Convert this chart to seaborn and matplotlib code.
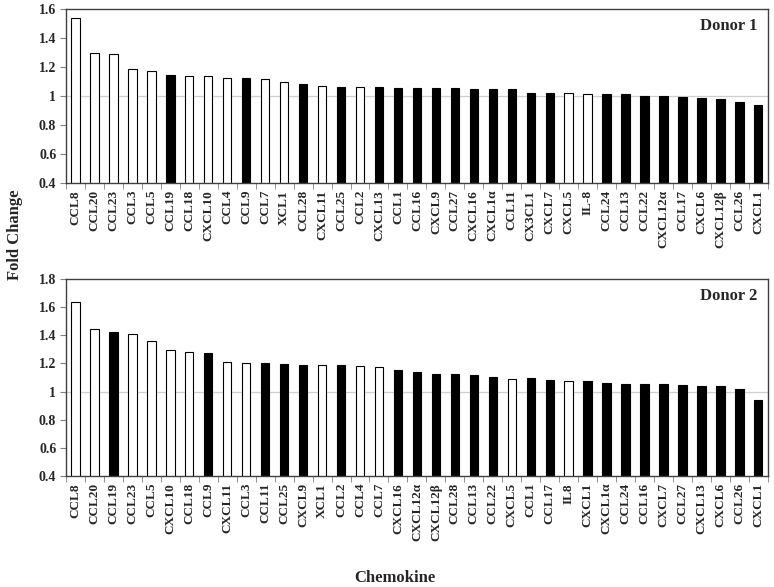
import matplotlib
matplotlib.use('Agg')
import matplotlib.pyplot as plt
import seaborn as sns
import pandas as pd
import numpy as np

# Donor 1
d1_labels = ['CCL8', 'CCL20', 'CCL23', 'CCL3', 'CCL5', 'CCL19', 'CCL18', 'CXCL10', 'CCL4', 'CCL9',
             'CCL7', 'XCL1', 'CCL28', 'CXCL11', 'CCL25', 'CCL2', 'CXCL13', 'CCL1', 'CCL16', 'CXCL9',
             'CCL27', 'CXCL16', 'CXCL1\u03b1', 'CCL11', 'CX3CL1', 'CXCL7', 'CXCL5', 'IL-8', 'CCL24', 'CCL13',
             'CCL22', 'CXCL12\u03b1', 'CCL17', 'CXCL6', 'CXCL12\u03b2', 'CCL26', 'CXCL1']
d1_values = [1.54, 1.297, 1.29, 1.185, 1.174, 1.146, 1.137, 1.137, 1.125, 1.125,
             1.116, 1.097, 1.083, 1.067, 1.065, 1.065, 1.065, 1.058, 1.058, 1.053,
             1.053, 1.046, 1.046, 1.046, 1.019, 1.019, 1.019, 1.012, 1.012, 1.012,
             1.002, 1.002, 0.991, 0.986, 0.979, 0.956, 0.937]
d1_kind = ['open', 'open', 'open', 'open', 'open', 'filled', 'open', 'open', 'open', 'filled',
           'open', 'open', 'filled', 'open', 'filled', 'open', 'filled', 'filled', 'filled', 'filled',
           'filled', 'filled', 'filled', 'filled', 'filled', 'filled', 'open', 'open', 'filled', 'filled',
           'filled', 'filled', 'filled', 'filled', 'filled', 'filled', 'filled']

# Donor 2
d2_labels = ['CCL8', 'CCL20', 'CCL19', 'CCL23', 'CCL5', 'CXCL10', 'CCL18', 'CCL9', 'CXCL11', 'CCL3',
             'CCL11', 'CCL25', 'CXCL9', 'XCL1', 'CCL2', 'CCL4', 'CCL7', 'CXCL16', 'CXCL12\u03b1', 'CXCL12\u03b2',
             'CCL28', 'CCL13', 'CCL22', 'CXCL5', 'CCL1', 'CCL17', 'IL8', 'CXCL1', 'CXCL1\u03b1', 'CCL24',
             'CCL16', 'CXCL7', 'CCL27', 'CXCL13', 'CXCL6', 'CCL26', 'CXCL1']
d2_values = [1.64, 1.445, 1.421, 1.407, 1.362, 1.295, 1.281, 1.274, 1.21, 1.205,
             1.205, 1.195, 1.188, 1.188, 1.188, 1.179, 1.174, 1.155, 1.138, 1.126,
             1.126, 1.119, 1.105, 1.09, 1.093, 1.079, 1.074, 1.076, 1.064, 1.057,
             1.057, 1.057, 1.05, 1.043, 1.043, 1.019, 0.943]
d2_kind = ['open', 'open', 'filled', 'open', 'open', 'open', 'open', 'filled', 'open', 'open',
           'filled', 'filled', 'filled', 'open', 'filled', 'open', 'open', 'filled', 'filled', 'filled',
           'filled', 'filled', 'filled', 'open', 'filled', 'filled', 'open', 'filled', 'filled', 'filled',
           'filled', 'filled', 'filled', 'filled', 'filled', 'filled', 'filled']

panels = [
    (d1_labels, d1_values, d1_kind, 'Donor 1', (0.4, 1.6), [0.4, 0.6, 0.8, 1.0, 1.2, 1.4, 1.6]),
    (d2_labels, d2_values, d2_kind, 'Donor 2', (0.4, 1.8), [0.4, 0.6, 0.8, 1.0, 1.2, 1.4, 1.6, 1.8]),
]

sns.set_style('white')
plt.rcParams['font.family'] = ['Liberation Serif', 'DejaVu Serif']
plt.rcParams['font.weight'] = 'bold'

fig = plt.figure(figsize=(7.74, 5.87), dpi=100)
axes_rects = [[0.0853, 0.6882, 0.9067, 0.2965], [0.0853, 0.1891, 0.9067, 0.3356]]

for rect, (labels, values, kind, title, ylim, yticks) in zip(axes_rects, panels):
    ax = fig.add_axes(rect)
    df = pd.DataFrame({'pos': np.arange(len(labels)), 'value': values, 'kind': kind})
    ax.axhline(1.0, color='#cfcfcf', lw=0.9, zorder=0)
    sns.barplot(data=df, x='pos', y='value', hue='kind', dodge=False, width=0.44,
                palette={'open': 'white', 'filled': 'black'}, edgecolor='black',
                linewidth=0.8, legend=False, ax=ax, native_scale=True, zorder=2)
    ax.set_xlim(-0.5, len(labels) - 0.5)
    ax.set_ylim(*ylim)
    ax.set_yticks(yticks)
    ax.set_yticklabels(['1' if t == 1.0 else f'{t:g}' for t in yticks], fontsize=10, fontweight='bold')
    ax.set_xticks(np.arange(len(labels)))
    ax.set_xticklabels(labels, rotation=90, fontsize=9.5, fontweight='bold')
    ax.set_xticks(np.arange(len(labels) + 1) - 0.5, minor=True)
    ax.tick_params(axis='x', which='major', length=0, pad=5)
    ax.tick_params(axis='x', which='minor', length=4, color='#808080', direction='out', bottom=True)
    ax.tick_params(axis='y', length=4, color='#808080', direction='out', left=True, pad=3)
    ax.set_xlabel('')
    ax.set_ylabel('')
    for s in ax.spines.values():
        s.set_color('#404040')
        s.set_linewidth(1.0)
    # label sits a fixed distance below the top frame in both panels
    ax.annotate(title, xy=(0.985, 1.0), xycoords='axes fraction', xytext=(0, -12.5),
                textcoords='offset points', ha='right', va='center',
                fontsize=12, fontweight='bold')

fig.text(0.02, 0.60, 'Fold Change', rotation=90, ha='center', va='center', fontsize=12, fontweight='bold')
fig.text(0.51, 0.015, 'Chemokine', ha='center', va='center', fontsize=12, fontweight='bold')

fig.savefig('out.png', dpi=100)
